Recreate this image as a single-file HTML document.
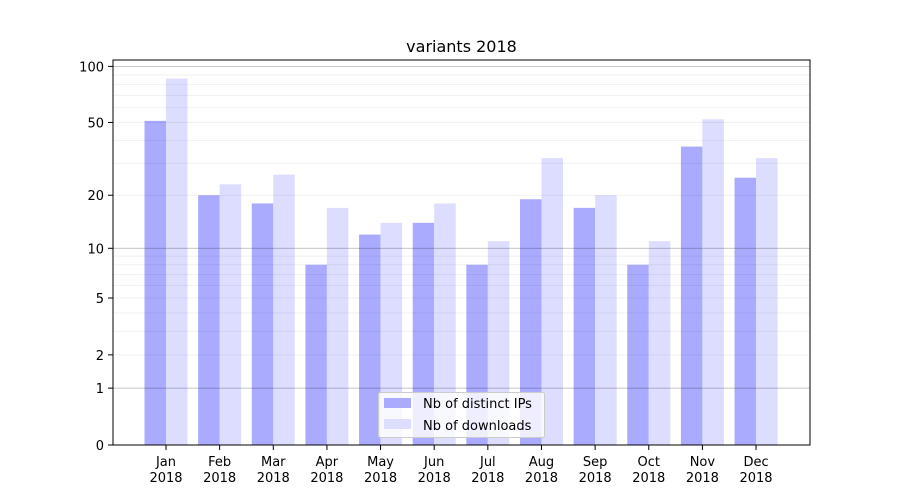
<!DOCTYPE html>
<html><head><meta charset="utf-8"><style>
html,body{margin:0;padding:0;background:#fff;}
svg{display:block;font-family:"DejaVu Sans","Liberation Sans",sans-serif;}
</style></head><body>
<svg id="c" width="900" height="500" xmlns="http://www.w3.org/2000/svg">
<rect width="900" height="500" fill="#fff"/>
<g id="bars"></g>
<g id="grid"></g>
<rect x="113" y="60" width="697" height="385" fill="none" stroke="#000" stroke-width="1"/>
<g id="ax" font-size="13" fill="#000"></g>
<text x="461.5" y="52" font-size="16" text-anchor="middle">variants 2018</text>
<g>
<rect x="378.5" y="392.5" width="166" height="45" rx="2" fill="#fff" fill-opacity="0.8" stroke="#ccc"/>
<rect x="384" y="398" width="27" height="10" fill="#aaaaff"/>
<rect x="384" y="419" width="27" height="10" fill="#ddddff"/>
<text x="423" y="408" font-size="13">Nb of distinct IPs</text>
<text x="423" y="430" font-size="13">Nb of downloads</text>
</g>
</svg>
<script>
const Y=v=>445-188.9*Math.log10(v+1);
const ns="http://www.w3.org/2000/svg";
function el(p,t,a,txt){const e=document.createElementNS(ns,t);for(const k in a)e.setAttribute(k,a[k]);if(txt!=null)e.textContent=txt;document.getElementById(p).appendChild(e);return e;}
const minors=[2,3,4,5,6,7,8,9,20,30,40,50,60,70,80,90];
minors.forEach(v=>{const y=Y(v);el("grid","line",{x1:113,x2:810,y1:y,y2:y,stroke:"#000","stroke-opacity":0.07,"stroke-width":0.8});});
[1,10,100].forEach(v=>{const y=Y(v);el("grid","line",{x1:113,x2:810,y1:y,y2:y,stroke:"#000","stroke-opacity":0.3,"stroke-width":0.8});});
const ips=[51,20,18,8,12,14,8,19,17,8,37,25];
const dl=[86,23,26,17,14,18,11,32,20,11,52,32];
const m=["Jan","Feb","Mar","Apr","May","Jun","Jul","Aug","Sep","Oct","Nov","Dec"];
for(let i=0;i<12;i++){
 const cx=166+i*53.64;
 el("bars","rect",{x:cx-21.5,y:Y(ips[i]),width:21.5,height:445-Y(ips[i]),fill:"#aaaaff"});
 el("bars","rect",{x:cx,y:Y(dl[i]),width:21.5,height:445-Y(dl[i]),fill:"#ddddff"});
 el("ax","line",{x1:cx,x2:cx,y1:445,y2:450,stroke:"#000"});
 el("ax","text",{x:cx,y:466,"text-anchor":"middle"},m[i]);
 el("ax","text",{x:cx,y:482,"text-anchor":"middle"},"2018");
}
[0,1,2,5,10,20,50,100].forEach(v=>{const y=Y(v);el("ax","line",{x1:108,x2:113,y1:y,y2:y,stroke:"#000"});el("ax","text",{x:104,y:y+5,"text-anchor":"end"},String(v));});
</script>
</body></html>
